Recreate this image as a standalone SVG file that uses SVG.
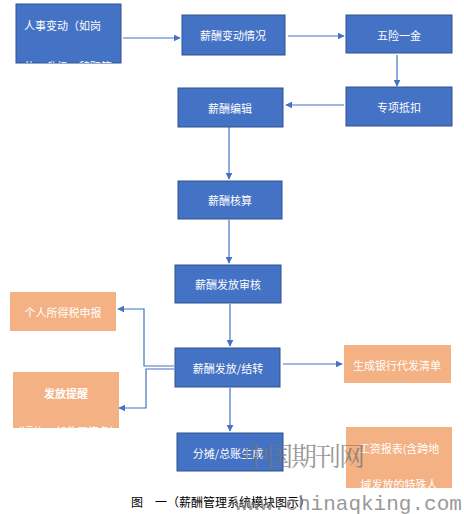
<svg xmlns="http://www.w3.org/2000/svg" width="464" height="514" viewBox="0 0 464 514">
<style>
.b{fill:#4472C4;stroke:#2F528F;stroke-width:1}
.o{fill:#F4B183}
.t{font-family:"Noto Sans CJK SC","Microsoft YaHei",sans-serif;font-size:11px;fill:#fff;text-anchor:middle;dominant-baseline:central}
.c{fill:none;stroke:#4472C4;stroke-width:1.2}
</style>
<defs>
<marker id="a" viewBox="0 0 10 10" refX="9" refY="5" markerWidth="7" markerHeight="7" markerUnits="userSpaceOnUse" orient="auto"><path d="M0,0L10,5L0,10z" fill="#4472C4"/></marker>
<clipPath id="k1"><rect x="16" y="4" width="105" height="59"/></clipPath>
<clipPath id="k2"><rect x="13" y="372" width="106" height="56"/></clipPath>
<clipPath id="k3"><rect x="346" y="427" width="106" height="61"/></clipPath>
</defs>
<rect width="464" height="514" fill="#fff"/>
<g id="connectors">
<path class="c" d="M123,38H180" marker-end="url(#a)"/>
<path class="c" d="M288,36H344" marker-end="url(#a)"/>
<path class="c" d="M397,55V86" marker-end="url(#a)"/>
<path class="c" d="M344,105H286" marker-end="url(#a)"/>
<path class="c" d="M229,127V179" marker-end="url(#a)"/>
<path class="c" d="M229,220V263" marker-end="url(#a)"/>
<path class="c" d="M230,304V346" marker-end="url(#a)"/>
<path class="c" d="M230,388V431" marker-end="url(#a)"/>
<path class="c" d="M283,364H342" marker-end="url(#a)"/>
<path class="c" d="M174,366H144V309H118" marker-end="url(#a)"/>
<path class="c" d="M174,369H146V408H119" marker-end="url(#a)"/>
</g>
<g id="n1"><rect class="b" x="16" y="4" width="105" height="59"/>
<g clip-path="url(#k1)"><text class="t" x="24" y="25" style="text-anchor:start">人事变动（如岗</text><text class="t" x="24" y="66" style="text-anchor:start">位、升级、辞职等</text></g></g>
<g id="n2"><rect class="b" x="182" y="15" width="103" height="40"/><text class="t" x="233" y="35">薪酬变动情况</text></g>
<g id="n3"><rect class="b" x="346" y="15" width="106" height="38"/><text class="t" x="399" y="35">五险一金</text></g>
<g id="n4"><rect class="b" x="346" y="87" width="106" height="39"/><text class="t" x="399" y="107">专项抵扣</text></g>
<g id="n5"><rect class="b" x="178" y="88" width="105" height="39"/><text class="t" x="230" y="108">薪酬编辑</text></g>
<g id="n6"><rect class="b" x="178" y="181" width="104" height="38"/><text class="t" x="230" y="200">薪酬核算</text></g>
<g id="n7"><rect class="b" x="175" y="265" width="106" height="38"/><text class="t" x="228" y="284">薪酬发放审核</text></g>
<g id="n8"><rect class="b" x="175" y="348" width="105" height="39"/><text class="t" x="228" y="368">薪酬发放/结转</text></g>
<g id="n9"><rect class="b" x="177" y="433" width="106" height="38"/><text class="t" x="228" y="453">分摊/总账生成</text></g>
<g id="o1"><rect class="o" x="10" y="292" width="106" height="39"/><text class="t" x="63" y="312">个人所得税申报</text></g>
<g id="o2"><rect class="o" x="13" y="372" width="106" height="56"/><text class="t" x="66" y="393" style="font-weight:bold">发放提醒</text>
<g clip-path="url(#k2)"><text class="t" x="66" y="431">（短信、邮件工资条）</text></g></g>
<g id="o3"><rect class="o" x="344" y="345" width="107" height="38"/><text class="t" x="397" y="365">生成银行代发清单</text></g>
<g id="o4"><rect class="o" x="346" y="427" width="106" height="61"/><text class="t" x="399" y="448">工资报表(含跨地</text>
<g clip-path="url(#k3)"><text class="t" x="399" y="484">域发放的特殊人</text></g></g>
<text x="131" y="507" font-family="'Noto Sans CJK SC',sans-serif" font-size="12" fill="#000">图　一（薪酬管理系统模块图示）</text>
<g fill="#777" opacity="0.75">
<text x="243" y="466" font-family="'Noto Serif CJK SC','Noto Sans CJK SC',serif" font-size="26" letter-spacing="-2">中国期刊网</text>
<text x="235" y="510" font-family="'Liberation Mono',monospace" font-size="21">www.chinaqking.com</text>
</g>
</svg>
